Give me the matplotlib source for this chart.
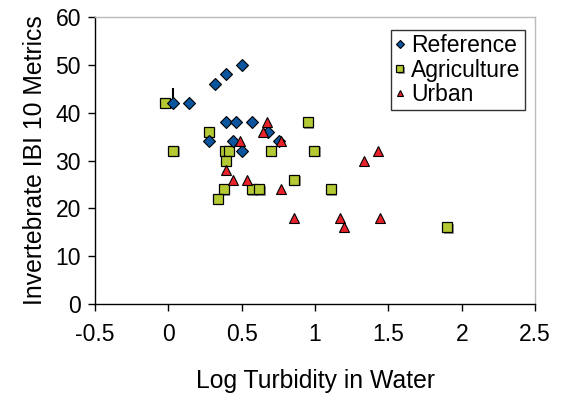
import matplotlib
matplotlib.use("Agg")
import matplotlib.pyplot as plt
import matplotlib.patheffects as pe

plt.rcParams['font.family'] = ['Liberation Sans', 'DejaVu Sans']

ref_x = [0.036, 0.139, 0.319, 0.391, 0.503, 0.391, 0.460, 0.571, 0.683, 0.275, 0.444, 0.758, 0.503]
ref_y = [42, 42, 46, 48, 50, 38, 38, 38, 36, 34, 34, 34, 32]

agr_x = [-0.02, 0.036, 0.275, 0.387, 0.412, 0.394, 0.701, 0.953, 0.994, 0.860, 1.106, 0.378, 0.571, 0.621, 0.337, 1.90]
agr_y = [42, 32, 36, 32, 32, 30, 32, 38, 32, 26, 24, 24, 24, 24, 22, 16]

urb_x = [0.674, 0.648, 0.487, 0.767, 0.394, 0.444, 0.537, 0.767, 1.331, 1.429, 0.860, 1.172, 1.445, 1.197]
urb_y = [38, 36, 34, 34, 28, 26, 26, 24, 30, 32, 18, 18, 18, 16]

# small vertical mark above first reference point
mark_x = [0.036]
mark_y0 = [43.1]
mark_y1 = [45.2]

xticks = [-0.5, 0, 0.5, 1, 1.5, 2, 2.5]
xticklabels = ['-0.5', '0', '0.5', '1', '1.5', '2', '2.5']
yticks = [0, 10, 20, 30, 40, 50, 60]

fig = plt.figure(figsize=(5.61, 4.0), dpi=100)
ax = fig.add_axes([0.169, 0.24, 0.785, 0.7175])

shadow = [pe.SimplePatchShadow(offset=(1, -1), shadow_rgbFace='#555555', alpha=0.6), pe.Normal()]

ax.vlines(mark_x, mark_y0, mark_y1, colors='black', linewidth=1.5, zorder=2)
ax.plot(agr_x, agr_y, linestyle='none', marker='s', markersize=7.2, markerfacecolor='#B5C935',
        markeredgecolor='black', markeredgewidth=0.9, label='Agriculture', zorder=3,
        path_effects=shadow)
ax.plot(ref_x, ref_y, linestyle='none', marker='D', markersize=5.8, markerfacecolor='#0B559F',
        markeredgecolor='black', markeredgewidth=0.8, label='Reference', zorder=4)
ax.plot(urb_x, urb_y, linestyle='none', marker='^', markersize=7.0, markerfacecolor='#E8212B',
        markeredgecolor='black', markeredgewidth=0.8, label='Urban', zorder=5)

ax.set_xlim(-0.5, 2.5)
ax.set_ylim(0, 60)
ax.set_xticks(xticks)
ax.set_xticklabels(xticklabels)
ax.set_yticks(yticks)
ax.tick_params(axis='both', direction='out', length=5, width=1, labelsize=16.5, colors='black')
ax.tick_params(axis='x', pad=9)
ax.tick_params(axis='y', pad=5)

for side in ['top', 'right']:
    ax.spines[side].set_color('#BBBBBB')
    ax.spines[side].set_linewidth(1)
for side in ['left', 'bottom']:
    ax.spines[side].set_color('black')
    ax.spines[side].set_linewidth(1)

ax.set_xlabel('Log Turbidity in Water', fontsize=17.8, labelpad=16)
ax.set_ylabel('Invertebrate IBI 10 Metrics', fontsize=17.8, labelpad=6)

handles, labels = ax.get_legend_handles_labels()
order = [labels.index('Reference'), labels.index('Agriculture'), labels.index('Urban')]
leg = ax.legend([handles[i] for i in order], [labels[i] for i in order],
                loc='upper right', bbox_to_anchor=(0.9775, 0.955), fontsize=16.5, frameon=True,
                fancybox=False, edgecolor='black', handlelength=0.4, handletextpad=0.3,
                borderpad=0.2, labelspacing=0.05, borderaxespad=0, markerscale=0.7)
leg.get_frame().set_linewidth(1)

fig.savefig('out.png', dpi=100, facecolor='white')
